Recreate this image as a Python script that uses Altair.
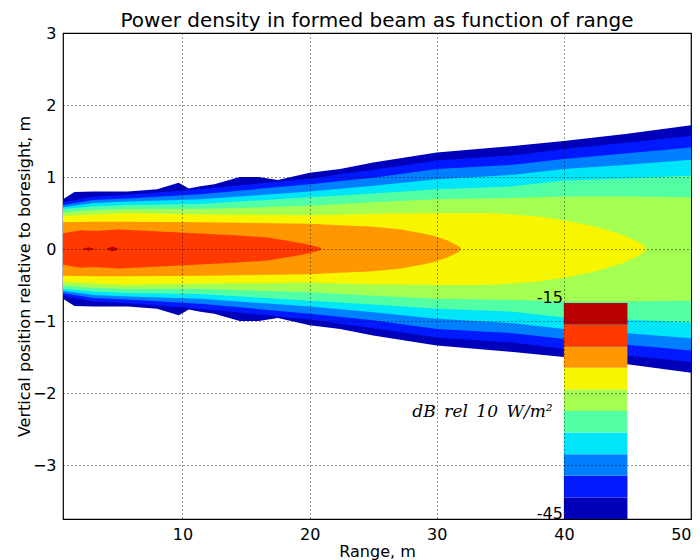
import altair as alt
import pandas as pd

TITLE = "Power density in formed beam as function of range"
X_TITLE = "Range, m"
Y_TITLE = "Vertical position relative to boresight, m"
UNIT_LABEL = "dB\u2002rel\u200210\u2002W/m²"

X_TICKS = [10, 20, 30, 40, 50]
Y_TICKS = [-3, -2, -1, 0, 1, 2, 3]
X_DOMAIN = [0.6, 50]
Y_DOMAIN = [-3.75, 3]

# contour levels (dB) and jet colours of each filled band
LEVELS = [-45, -42, -39, -36, -33, -30, -27, -24, -21, -18]
LEVEL_TOPS = [-42, -39, -36, -33, -30, -27, -24, -21, -18, -15]
COLORS = ["#0000ba", "#0019ff", "#0080ff", "#00e5f7", "#52ffa4",
          "#a4ff52", "#f7f500", "#ff9700", "#ff3900", "#ba0000"]

# half-width (m) of the region above each level, as function of range (m)
R_M45 = [0.6, 1.5, 3, 5.7, 8, 9.7, 10.5, 11.4, 12.5, 14.5, 16, 17.5, 20, 22.4, 25, 30, 36, 40, 45, 50]
H_M45 = [0.69, 0.79, 0.80, 0.80, 0.83, 0.92, 0.84, 0.87, 0.90, 1.00, 1.00, 0.96, 1.06, 1.11, 1.20, 1.34, 1.43, 1.50, 1.60, 1.72]

R_BAND = [0.6, 3, 5.7, 11.4, 20, 25, 30, 36, 40, 45, 50]
H_M42 = [0.65, 0.73, 0.755, 0.83, 0.98, 1.10, 1.23, 1.30, 1.39, 1.48, 1.57]
H_M39 = [0.61, 0.68, 0.70, 0.76, 0.90, 0.99, 1.11, 1.17, 1.25, 1.33, 1.41]
H_M36 = [0.58, 0.64, 0.66, 0.69, 0.80, 0.88, 0.97, 1.03, 1.11, 1.17, 1.24]
H_M33 = [0.555, 0.59, 0.61, 0.625, 0.72, 0.77, 0.83, 0.87, 0.95, 0.98, 1.02]
H_M30 = [0.51, 0.54, 0.555, 0.555, 0.60, 0.65, 0.69, 0.71, 0.73, 0.73, 0.72]

R_M27 = [0.6, 3, 5.7, 11.4, 20, 25, 30, 34, 36, 38, 40, 42, 43.5, 44.7, 45.6, 46.2, 46.5]
H_M27 = [0.46, 0.48, 0.50, 0.48, 0.47, 0.49, 0.50, 0.50, 0.48, 0.45, 0.40, 0.33, 0.26, 0.19, 0.12, 0.06, 0.0]

R_M24 = [0.6, 3, 5.7, 11.4, 20, 22.4, 25, 27.2, 28.5, 29.8, 30.8, 31.4, 31.8, 31.9]
H_M24 = [0.37, 0.38, 0.38, 0.37, 0.35, 0.33, 0.31, 0.27, 0.23, 0.18, 0.12, 0.07, 0.03, 0.0]

R_M21 = [0.6, 2, 3, 5, 9.8, 14, 16.7, 18, 19.3, 20.2, 20.7, 21.0]
H_M21 = [0.22, 0.26, 0.25, 0.27, 0.23, 0.19, 0.16, 0.12, 0.083, 0.05, 0.025, 0.0]

R_M18 = [2.1, 2.6, 3.1, 4.0, 4.5, 5.0]
H_M18 = [0.0, 0.025, 0.0, 0.0, 0.035, 0.0]
SEG_M18 = [1, 1, 1, 2, 2, 2]

# colour-bar inset (range span) and its tick labels
CB_RANGE = (40, 45)
CB_TICKS = [-45, -15]
CB_TICK_TEXT = ["-45", "-15"]
UNIT_POS = (33.6, -2.26)

W, H = 628, 486
FONT = "DejaVu Sans"

xscale = alt.Scale(domain=X_DOMAIN, nice=False, zero=False)
yscale = alt.Scale(domain=Y_DOMAIN, nice=False, zero=False)
x_axis = alt.Axis(values=X_TICKS, title=X_TITLE, grid=True, ticks=False, domain=False,
                  labelPadding=7, titlePadding=1, zindex=1, labelFlush=True)
y_axis = alt.Axis(values=Y_TICKS, title=Y_TITLE, grid=True, ticks=False, domain=False,
                  labelPadding=7, titlePadding=0, zindex=1, labelFlush=False)


def band(xs, hs, color, seg=None):
    df = pd.DataFrame({"range": xs, "hi": hs, "lo": [-h for h in hs]})
    enc = dict(
        x=alt.X("range:Q", scale=xscale, axis=x_axis),
        y=alt.Y("lo:Q", scale=yscale, axis=y_axis),
        y2="hi:Q",
    )
    if seg is not None:
        df["seg"] = seg
        enc["detail"] = "seg:N"
    return alt.Chart(df).mark_area(color=color, interpolate="linear").encode(**enc)


bands = [
    band(R_M45, H_M45, COLORS[0]),
    band(R_BAND, H_M42, COLORS[1]),
    band(R_BAND, H_M39, COLORS[2]),
    band(R_BAND, H_M36, COLORS[3]),
    band(R_BAND, H_M33, COLORS[4]),
    band(R_BAND, H_M30, COLORS[5]),
    band(R_M27, H_M27, COLORS[6]),
    band(R_M24, H_M24, COLORS[7]),
    band(R_M21, H_M21, COLORS[8]),
    band(R_M18, H_M18, COLORS[9], SEG_M18),
]

unit_df = pd.DataFrame({"range": [UNIT_POS[0]], "v": [UNIT_POS[1]], "t": [UNIT_LABEL]})
unit_text = alt.Chart(unit_df).mark_text(
    font="DejaVu Serif", fontStyle="italic", fontSize=17, align="center", baseline="middle", color="black"
).encode(
    x=alt.X("range:Q", scale=xscale, axis=x_axis),
    y=alt.Y("v:Q", scale=yscale, axis=y_axis),
    text="t:N",
)

contours = alt.layer(*bands, unit_text)

cb_df = pd.DataFrame({"lo": LEVELS, "hi": LEVEL_TOPS, "c": COLORS,
                      "x0": [CB_RANGE[0]] * len(LEVELS), "x1": [CB_RANGE[1]] * len(LEVELS)})
cb_scale = alt.Scale(domain=[CB_TICKS[0], CB_TICKS[1]], range=[H, 270], nice=False, zero=False)
cb_rects = alt.Chart(cb_df).mark_rect().encode(
    x=alt.X("x0:Q", scale=xscale, axis=x_axis),
    x2="x1:Q",
    y=alt.Y("lo:Q", scale=cb_scale, axis=None),
    y2="hi:Q",
    color=alt.Color("c:N", scale=None),
)
cbl_df = pd.DataFrame({"lvl": CB_TICKS, "t": CB_TICK_TEXT, "x0": [CB_RANGE[0]] * 2})
cb_labels = alt.Chart(cbl_df).mark_text(
    font=FONT, fontSize=16, align="right", baseline="alphabetic", dx=-1, color="black"
).encode(
    x=alt.X("x0:Q", scale=xscale, axis=x_axis),
    y=alt.Y("lvl:Q", scale=cb_scale, axis=None),
    text="t:N",
)
cbar = alt.layer(cb_rects, cb_labels)

chart = alt.layer(contours, cbar).resolve_scale(y="independent").properties(
    width=W, height=H,
    background="white",
    title=alt.Title(TITLE, fontSize=20, fontWeight="normal", font=FONT, anchor="middle",
                    frame="group", offset=-6, color="black"),
    autosize=alt.AutoSizeParams(type="none"),
    padding={"left": 55, "top": 25, "right": 1, "bottom": 44},
).configure_view(stroke="black", strokeWidth=1.2).configure_axis(
    labelFont=FONT, labelFontSize=16, labelColor="black",
    titleFont=FONT, titleFontSize=16, titleFontWeight="normal", titleColor="black",
    gridColor="black", gridDash=[1, 3], gridWidth=0.8, gridOpacity=1,
)

chart.save("out.html", embed_options={"renderer": "svg", "actions": False})
